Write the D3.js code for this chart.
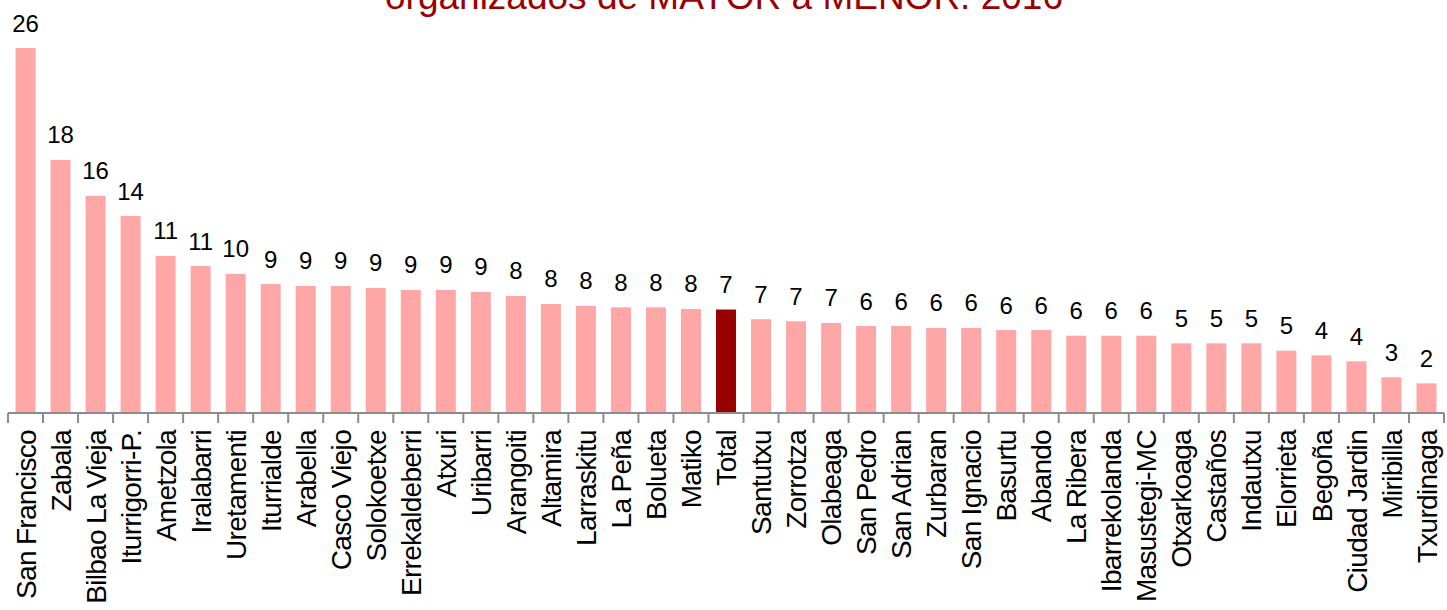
<!DOCTYPE html>
<html>
<head>
<meta charset="utf-8">
<script src="https://cdn.jsdelivr.net/npm/d3@7"></script>
<style>
body { margin: 0; background: #fff; }
svg text { font-family: "Liberation Sans", Arial, sans-serif; }
</style>
</head>
<body>
<svg id="viz" width="1447" height="610"></svg>
<script>
var barrios = ['San Francisco', 'Zabala', 'Bilbao La Vieja', 'Iturrigorri-P.', 'Ametzola', 'Iralabarri',
	'Uretamenti', 'Iturrialde', 'Arabella', 'Casco Viejo', 'Solokoetxe', 'Errekaldeberri', 'Atxuri',
	'Uribarri', 'Arangoiti', 'Altamira', 'Larraskitu', 'La Peña', 'Bolueta', 'Matiko', 'Total',
	'Santutxu', 'Zorrotza', 'Olabeaga', 'San Pedro', 'San Adrian', 'Zurbaran', 'San Ignacio',
	'Basurtu', 'Abando', 'La Ribera', 'Ibarrekolanda', 'Masustegi-MC', 'Otxarkoaga', 'Castaños',
	'Indautxu', 'Elorrieta', 'Begoña', 'Ciudad Jardin', 'Miribilla', 'Txurdinaga'];

var valores = [26.35, 18.27, 15.67, 14.22, 11.34, 10.61,
	10.04, 9.31, 9.17, 9.17, 9.03, 8.88, 8.88,
	8.74, 8.45, 7.87, 7.73, 7.63, 7.63, 7.51, 7.47,
	6.77, 6.62, 6.50, 6.28, 6.28, 6.14, 6.14,
	5.99, 5.99, 5.58, 5.58, 5.58, 5.03, 5.03,
	5.03, 4.50, 4.16, 3.73, 2.58, 2.14];

var titulo = 'organizados de MAYOR a MENOR. 2016';

var viz = d3.select('#viz');

var x = d3.scaleBand()
	.domain(barrios)
	.range([8, 1444])
	.paddingInner(0.43)
	.paddingOuter(0.215);

var y = d3.scaleLinear()
	.domain([0, 26.35])
	.range([413, 48]);

// title (first line falls outside the picture)
viz.append('text')
	.attr('x', 724)
	.attr('y', 9)
	.attr('text-anchor', 'middle')
	.style('font-size', '37px')
	.style('fill', '#9b0000')
	.text(titulo);

// bars
viz.selectAll('rect.bar')
	.data(barrios)
	.enter().append('rect')
		.attr('class', 'bar')
		.attr('x', function(d) { return x(d); })
		.attr('width', x.bandwidth())
		.attr('y', function(d, i) { return y(valores[i]); })
		.attr('height', function(d, i) { return y(0) - y(valores[i]); })
		.style('fill', function(d) { return d == 'Total' ? '#990000' : '#ffa6a6'; });

// value labels
viz.selectAll('text.valor')
	.data(barrios)
	.enter().append('text')
		.attr('class', 'valor')
		.attr('x', function(d) { return x(d) + x.bandwidth() / 2; })
		.attr('y', function(d, i) { return y(valores[i]) - 16.5; })
		.attr('text-anchor', 'middle')
		.style('font-size', '24px')
		.style('fill', '#000')
		.text(function(d, i) { return d3.format('.0f')(valores[i]); });

// axis with ticks between categories
var step = x.step();
var bordes = barrios.map(function(d) { return x(d) - (step - x.bandwidth()) / 2; });
bordes.push(x.range()[1]);

var eje = viz.append('g').attr('class', 'eje');
eje.append('line')
	.attr('x1', x.range()[0]).attr('x2', x.range()[1])
	.attr('y1', y(0)).attr('y2', y(0))
	.style('stroke', '#8c8c8c')
	.style('stroke-width', 2);
eje.selectAll('line.tick')
	.data(bordes)
	.enter().append('line')
		.attr('class', 'tick')
		.attr('x1', function(d) { return d; }).attr('x2', function(d) { return d; })
		.attr('y1', y(0)).attr('y2', y(0) + 10)
		.style('stroke', '#8c8c8c')
		.style('stroke-width', 2);

// category labels
viz.selectAll('text.barrio')
	.data(barrios)
	.enter().append('text')
		.attr('class', 'barrio')
		.attr('transform', function(d) {
			return 'translate(' + (x(d) + x.bandwidth() / 2) + ',430) rotate(-90)';
		})
		.attr('dy', '0.36em')
		.attr('text-anchor', 'end')
		.style('font-size', '28px')
		.style('letter-spacing', '-0.7px')
		.style('word-spacing', '-1px')
		.style('fill', '#000')
		.text(function(d) { return d; });
</script>
</body>
</html>
